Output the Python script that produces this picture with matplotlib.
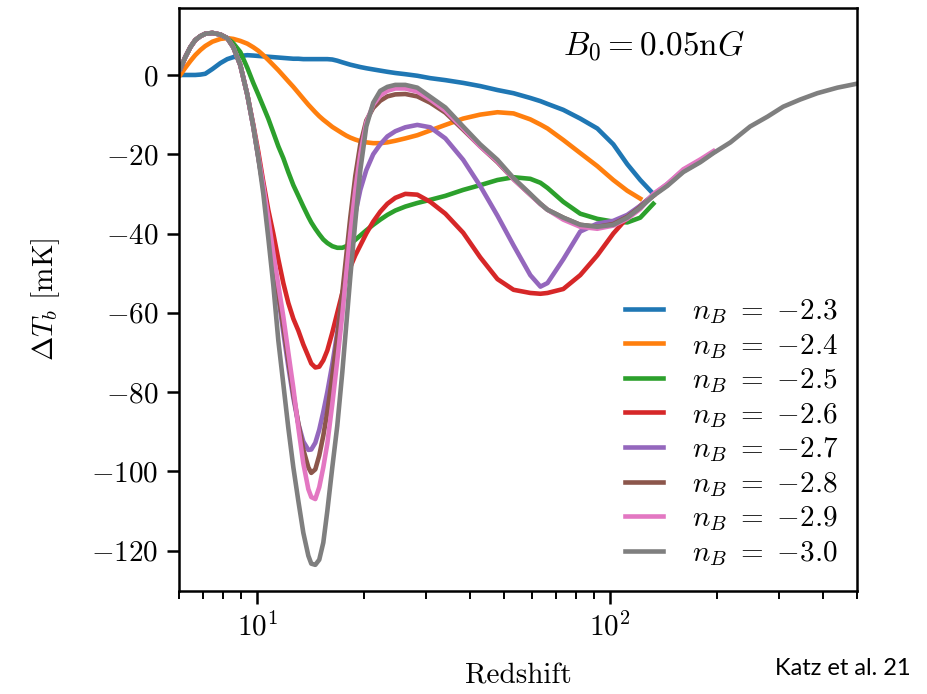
import numpy as np
import matplotlib
matplotlib.use("Agg")
import matplotlib.pyplot as plt

plt.rcParams.update({
    "font.family": "serif",
    "font.serif": ["cmr10"],
    "mathtext.fontset": "cm",
    "axes.formatter.use_mathtext": True,
    "axes.unicode_minus": True,
})

nan = np.nan

# Redshift sampling grid shared by every curve
redshift = [6.05, 6.25, 6.46, 6.67, 6.90, 7.12, 7.46, 7.86, 8.22, 8.55,
            8.95, 9.37, 9.74, 10.07, 10.4, 10.74, 11.1, 11.47, 11.85, 12.24,
            12.65, 13.07, 13.5, 13.95, 14.22, 14.6, 14.98, 15.38, 15.79, 16.31,
            16.85, 17.41, 17.87, 18.34, 18.95, 19.58, 20.36, 21.3, 22.3, 23.36,
            24.6, 26.26, 28.4, 30.9, 34.1, 38.3, 42.8, 47.9, 53.2, 59.35,
            63.4, 66.4, 73.6, 82.2, 91.9, 102.0, 111.7, 121.6, 132.4, 145,
            161, 180, 196, 219, 249, 279, 309, 345, 386, 440,
            500]

# Brightness-temperature difference [mK] for each magnetic spectral index n_B
dT_n23 = [0, 0, 0, 0, 0.1, 0.3, 1.5, 3.0, 4.0, 4.5,
          4.8, 5.0, 4.9, 4.8, 4.7, 4.6, 4.5, 4.4, 4.3, 4.2,
          4.1, 4.1, 4.0, 4.0, 4.0, 4.0, 4.0, 4.0, 4.0, 3.9,
          3.6, 3.2, 2.9, 2.6, 2.3, 2.0, 1.7, 1.4, 1.1, 0.8,
          0.5, 0.2, -0.2, -0.8, -1.3, -2.0, -2.8, -3.8, -4.6, -5.8,
          -6.6, -7.3, -8.8, -11.0, -13.5, -17.5, -22.5, -26.5, -30.0, nan,
          nan, nan, nan, nan, nan, nan, nan, nan, nan, nan,
          nan]

dT_n24 = [0, 1.8, 3.5, 5.0, 6.3, 7.3, 8.4, 9.1, 9.3, 9.1,
          8.6, 7.9, 7.0, 6.1, 5.0, 3.8, 2.5, 1.2, -0.2, -1.6,
          -3.0, -4.5, -6.0, -7.5, -8.3, -9.4, -10.4, -11.3, -12.1, -13.1,
          -13.9, -14.7, -15.3, -15.8, -16.3, -16.7, -17.0, -17.2, -17.2, -17.0,
          -16.6, -16.0, -15.2, -14.0, -12.6, -11.0, -10.0, -9.4, -9.7, -11.2,
          -12.5, -13.5, -16.4, -19.7, -23.0, -26.5, -29.2, -31.2, nan, nan,
          nan, nan, nan, nan, nan, nan, nan, nan, nan, nan,
          nan]

dT_n25 = [1.5, 4.5, 7.0, 8.8, 9.8, 10.4, 10.6, 10.2, 9.3, 8.0,
          5.8, 1.8, -2.0, -5.0, -8.0, -11.0, -14.5, -18.0, -21.0, -24.5,
          -27.8, -30.5, -33.2, -35.8, -37.2, -38.8, -40.2, -41.5, -42.4, -43.2,
          -43.6, -43.6, -43.2, -42.6, -41.6, -40.5, -39.2, -37.8, -36.5, -35.3,
          -34.2, -33.2, -32.3, -31.5, -30.5, -29.0, -27.8, -26.5, -25.8, -26.2,
          -27.2, -28.5, -32.0, -35.0, -36.3, -37.0, -37.2, -36.0, -32.5, nan,
          nan, nan, nan, nan, nan, nan, nan, nan, nan, nan,
          nan]

dT_n26 = [1.5, 4.5, 7.0, 8.8, 9.8, 10.4, 10.6, 10.2, 9.3, 7.0,
          2.5, -5.0, -12.5, -19.5, -27.0, -34.0, -40.0, -46.5, -52.5, -57.5,
          -61.5, -64.5, -68.0, -71.0, -72.8, -73.8, -73.6, -72.0, -69.5, -65.0,
          -60.0, -55.0, -51.5, -48.5, -45.5, -43.0, -40.0, -37.0, -34.5, -32.5,
          -31.0, -30.0, -30.2, -32.0, -35.0, -39.8, -46.0, -51.5, -54.2, -55.0,
          -55.2, -55.0, -54.0, -50.5, -45.5, -40.0, -36.0, -33.0, -30.5, nan,
          nan, nan, nan, nan, nan, nan, nan, nan, nan, nan,
          nan]

dT_n27 = [1.5, 4.5, 7.0, 8.8, 9.8, 10.4, 10.6, 10.2, 9.3, 7.0,
          2.5, -5.0, -13.0, -21.0, -28.5, -37.5, -47.0, -56.0, -65.0, -73.5,
          -81.5, -88.0, -92.5, -94.6, -94.5, -92.8, -89.5, -85.0, -80.0, -73.0,
          -65.0, -56.0, -48.5, -42.0, -35.0, -29.0, -24.0, -20.0, -17.5, -15.5,
          -14.2, -13.2, -12.6, -13.2, -16.0, -21.4, -28.0, -35.5, -43.0, -50.5,
          -53.4, -52.5, -46.5, -39.5, -37.5, -36.8, -35.3, -33.0, -30.2, -27.5,
          -24.0, -21.5, -19.5, nan, nan, nan, nan, nan, nan, nan,
          nan]

dT_n28 = [1.5, 4.5, 7.0, 8.8, 9.8, 10.4, 10.6, 10.2, 9.3, 7.0,
          2.5, -5.0, -13.0, -20.8, -28.5, -37.0, -46.0, -55.0, -63.5, -72.0,
          -80.5, -88.0, -94.5, -99.0, -100.4, -99.5, -96.0, -91.0, -85.0, -76.0,
          -66.0, -55.0, -45.5, -36.0, -25.5, -17.5, -11.5, -8.3, -6.5, -5.4,
          -4.9, -4.8, -5.4, -7.0, -9.5, -13.8, -18.0, -22.0, -26.3, -30.2,
          -32.5, -34.0, -36.0, -37.8, -38.3, -37.6, -35.8, -33.3, -30.3, -27.8,
          -24.3, -21.8, -19.5, nan, nan, nan, nan, nan, nan, nan,
          nan]

dT_n29 = [1.5, 4.5, 7.0, 8.8, 9.8, 10.4, 10.6, 10.2, 9.3, 7.0,
          2.5, -5.0, -13.0, -20.5, -28.0, -36.0, -45.0, -53.0, -61.0, -70.0,
          -79.0, -89.0, -98.0, -104.5, -106.5, -107.0, -104.0, -99.0, -93.0, -83.0,
          -72.0, -60.5, -50.0, -40.0, -29.0, -20.0, -12.0, -7.5, -5.2, -4.0,
          -3.4, -3.4, -4.2, -6.2, -9.0, -13.5, -18.0, -21.8, -26.3, -30.2,
          -32.6, -34.0, -36.5, -38.3, -38.8, -38.0, -36.3, -33.8, -30.0, -27.5,
          -23.8, -21.3, -19.2, nan, nan, nan, nan, nan, nan, nan,
          nan]

dT_n30 = [1.5, 4.5, 7.0, 8.8, 9.8, 10.4, 10.6, 10.2, 9.3, 7.0,
          2.5, -5.0, -13.0, -21.0, -30.0, -41.0, -53.0, -67.0, -78.0, -89.0,
          -99.0, -107.5, -115.5, -121.3, -123.3, -123.6, -122.3, -118.0, -110.0, -99.0,
          -88.5, -75.0, -63.0, -51.0, -37.0, -24.0, -13.0, -7.0, -4.0, -3.0,
          -2.5, -2.5, -3.2, -5.5, -8.2, -13.0, -17.5, -21.4, -26.0, -30.0,
          -32.5, -34.0, -36.0, -37.8, -38.3, -37.8, -36.0, -33.5, -30.5, -28.0,
          -24.5, -22.0, -19.7, -17.0, -13.0, -10.5, -8.0, -6.2, -4.6, -3.2,
          -2.2]

n_B = [-2.3, -2.4, -2.5, -2.6, -2.7, -2.8, -2.9, -3.0]
series = [dT_n23, dT_n24, dT_n25, dT_n26, dT_n27, dT_n28, dT_n29, dT_n30]
colors = ["#1f77b4", "#ff7f0e", "#2ca02c", "#d62728",
          "#9467bd", "#8c564b", "#e377c2", "#7f7f7f"]
y_ticks = [0, -20, -40, -60, -80, -100, -120]

fig = plt.figure(figsize=(9.28, 6.94), dpi=100)
ax = fig.add_axes([179 / 928, 1 - 591 / 694, 678 / 928, 583 / 694])

for vals, nb, col in zip(series, n_B, colors):
    ax.plot(redshift, vals, color=col, lw=3.3,
            label=rf"$n_B\ =\ {{-}}{abs(nb):.1f}$")

ax.set_xscale("log")
ax.set_xlim(6, 500)
ax.set_ylim(-130.2, 16.9)
ax.set_yticks(y_ticks)

for side in ax.spines.values():
    side.set_linewidth(1.8)
ax.tick_params(which="major", length=9, width=1.8, labelsize=21, pad=6)
ax.tick_params(which="minor", length=5.5, width=1.4)

ax.set_xlabel("Redshift", fontsize=21, labelpad=16)
ax.set_ylabel(r"$\Delta T_b$ [mK]", fontsize=21, labelpad=21)

ax.text(0.70, 0.935, r"$B_0 = 0.05\mathrm{n}G$", transform=ax.transAxes,
        fontsize=24, ha="center", va="center")

ax.legend(loc="lower right", bbox_to_anchor=(0.99, 0.02), borderaxespad=0,
          frameon=False, fontsize=21, handlelength=1.32, labelspacing=0.19,
          handletextpad=1.0)

fig.text(0.835, 0.028, "Katz et al. 21", family="Lato", fontsize=17)

fig.savefig("out.png", dpi=100)
